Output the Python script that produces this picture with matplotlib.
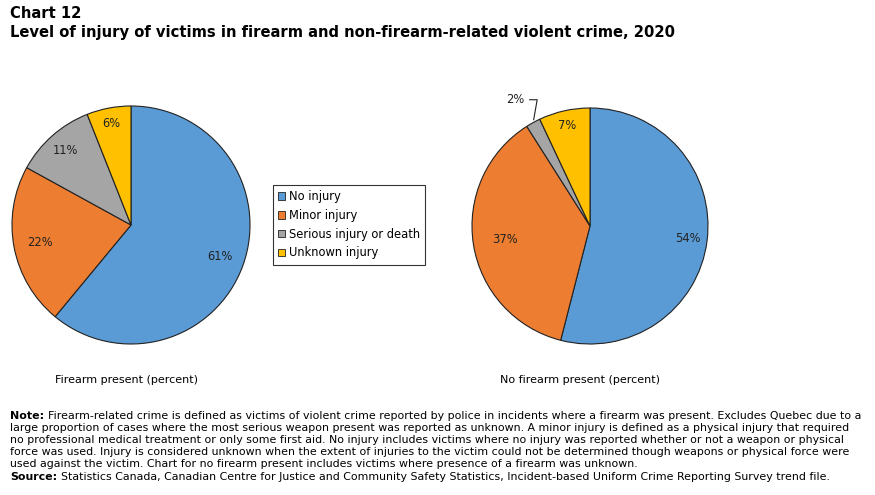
import matplotlib
matplotlib.use("Agg")
import matplotlib.pyplot as plt
import numpy as np
from matplotlib.patches import Patch

categories = ["No injury", "Minor injury", "Serious injury or death", "Unknown injury"]
firearm_values = [61, 22, 11, 6]
no_firearm_values = [54, 37, 2, 7]
pie_titles = ["Firearm present (percent)", "No firearm present (percent)"]
colors = ["#5B9BD5", "#ED7D31", "#A5A5A5", "#FFC000"]

fig = plt.figure(figsize=(8.75, 4.95), dpi=100)
plt.rcParams['font.family'] = ['DejaVu Sans']

W, H = 875, 495

def add_pie(cx, cy, r, values, label_r, outside=None):
    ax = fig.add_axes([(cx - r) / W, 1 - (cy + r) / H, 2 * r / W, 2 * r / H])
    wedges, _ = ax.pie(values, colors=colors, startangle=90, counterclock=False,
                       wedgeprops=dict(edgecolor="#222222", linewidth=0.8))
    total = sum(values)
    cum = 0
    for i, v in enumerate(values):
        mid = 90 - 360 * (cum + v / 2) / total
        cum += v
        ang = np.deg2rad(mid)
        if outside is not None and i == outside:
            x0, y0 = 1.0 * np.cos(ang), 1.0 * np.sin(ang)
            ax.annotate(f"{v}%", xy=(x0, y0), xytext=(-0.56, 1.07),
                        ha="right", va="center", fontsize=8.3, color="#222222",
                        arrowprops=dict(arrowstyle="-", color="#222222", lw=0.8,
                                        connectionstyle="angle,angleA=0,angleB=80,rad=0"),
                        annotation_clip=False)
        else:
            lr = label_r[i]
            ax.text(lr * np.cos(ang), lr * np.sin(ang), f"{v}%", ha="center",
                    va="center", fontsize=8.3, color="#222222")
    ax.set_xlim(-1, 1)
    ax.set_ylim(-1, 1)
    ax.set_aspect("equal")
    ax.axis("off")
    return ax

add_pie(131, 225, 119, firearm_values, [0.79, 0.78, 0.83, 0.87])
add_pie(590, 226, 118, no_firearm_values, [0.84, 0.73, 0.8, 0.87], outside=2)

fig.text(55 / W, 1 - 380 / H, pie_titles[0], fontsize=8, va="center", ha="left")
fig.text(500 / W, 1 - 380 / H, pie_titles[1], fontsize=8, va="center", ha="left")

handles = [Patch(facecolor=c, edgecolor="#222222", linewidth=0.6) for c in colors]
leg = fig.legend(handles, categories, loc="upper left",
                 bbox_to_anchor=(273 / W, 1 - 185 / H), fontsize=8.3,
                 frameon=True, fancybox=False, edgecolor="black",
                 handlelength=0.6, handleheight=0.6, handletextpad=0.3,
                 labelspacing=0.5, borderpad=0.45, borderaxespad=0)
leg.get_frame().set_linewidth(0.8)

fig.text(10 / W, 1 - 14 / H, "Chart 12", fontsize=10.6, fontweight="bold", va="center", ha="left")
fig.text(10 / W, 1 - 32 / H,
         "Level of injury of victims in firearm and non-firearm-related violent crime, 2020",
         fontsize=10.6, fontweight="bold", va="center", ha="left")

note_lines = [
    "Firearm-related crime is defined as victims of violent crime reported by police in incidents where a firearm was present. Excludes Quebec due to a",
    "large proportion of cases where the most serious weapon present was reported as unknown. A minor injury is defined as a physical injury that required",
    "no professional medical treatment or only some first aid. No injury includes victims where no injury was reported whether or not a weapon or physical",
    "force was used. Injury is considered unknown when the extent of injuries to the victim could not be determined though weapons or physical force were",
    "used against the victim. Chart for no firearm present includes victims where presence of a firearm was unknown.",
]
source_text = "Statistics Canada, Canadian Centre for Justice and Community Safety Statistics, Incident-based Uniform Crime Reporting Survey trend file."
y0 = 416
dy = 12.1
fs = 7.9
renderer = fig.canvas.get_renderer()

def label_then_text(y, label, text):
    t = fig.text(10 / W, 1 - y / H, label, fontsize=fs, fontweight="bold", va="center", ha="left")
    bb = t.get_window_extent(renderer=renderer)
    fig.text((bb.x1 + 4) / W, 1 - y / H, text, fontsize=fs, va="center", ha="left")

label_then_text(y0, "Note:", note_lines[0])
for i, line in enumerate(note_lines[1:], start=1):
    fig.text(10 / W, 1 - (y0 + i * dy) / H, line, fontsize=fs, va="center", ha="left")
label_then_text(y0 + 5 * dy, "Source:", source_text)

fig.savefig("out.png", dpi=100)
